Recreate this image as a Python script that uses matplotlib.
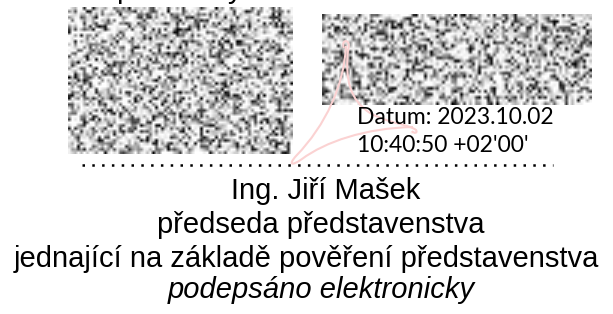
import numpy as np
import matplotlib
matplotlib.use('Agg')
import matplotlib.pyplot as plt
from matplotlib.path import Path
from matplotlib.patches import PathPatch

# text content of the signature block
top_line = "potvrzený"
stamp_lines = ["Datum: 2023.10.02", "10:40:50 +02'00'"]
name_lines = ["Ing. Jiří Mašek", "předseda představenstva",
              "jednající na základě pověření představenstva"]
signed_note = "podepsáno elektronicky"

W, H = 613, 314
fig = plt.figure(figsize=(W / 100, H / 100), dpi=100)
ax = fig.add_axes([0, 0, 1, 1])
ax.set_xlim(0, W)
ax.set_ylim(H, 0)
ax.axis('off')

# masked (scrambled) signature areas - just a grey speckle texture
rng = np.random.default_rng(11)
def speckle(x0, x1, y0, y1, cell=3.0):
	rows = int((y1 - y0) / cell)
	cols = int((x1 - x0) / cell)
	g = 1 - rng.random((rows, cols)) ** 2.4
	ax.imshow(g, cmap='gray', vmin=0, vmax=1, extent=(x0, x1, y1, y0),
	          interpolation='bilinear', aspect='auto', zorder=1)

speckle(68, 293, 7, 154)
speckle(322, 592, 14, 105)

# line above, only the descenders show
ax.text(116, -2.5, top_line, fontsize=21, family='Liberation Sans',
        ha='left', va='baseline', color='black', zorder=3)

# acrobat-like pink mark
pink = '#fbd2d2'
verts = [(346, 46), (344, 85), (326, 125), (296, 156),
         (288, 165), (292, 166), (302, 159),
         (325, 142), (365, 128), (413, 127)]
codes = [Path.MOVETO, Path.CURVE4, Path.CURVE4, Path.CURVE4,
         Path.CURVE4, Path.CURVE4, Path.CURVE4,
         Path.CURVE4, Path.CURVE4, Path.CURVE4]
ax.add_patch(PathPatch(Path(verts, codes), fill=False, ec=pink, lw=1.5, zorder=2))
verts = [(344, 48), (340, 39), (352, 38), (348, 50),
         (345, 80), (350, 100), (370, 113),
         (390, 124), (408, 124), (416, 130),
         (418, 133), (414, 134), (412, 131)]
codes = [Path.MOVETO, Path.CURVE4, Path.CURVE4, Path.CURVE4,
         Path.CURVE4, Path.CURVE4, Path.CURVE4,
         Path.CURVE4, Path.CURVE4, Path.CURVE4,
         Path.CURVE4, Path.CURVE4, Path.CURVE4]
ax.add_patch(PathPatch(Path(verts, codes), fill=False, ec=pink, lw=1.5, zorder=2))
ax.text(411, 133, '®', fontsize=3, color=pink, ha='center', va='center', zorder=2)

# timestamp
for i, s in enumerate(stamp_lines):
	ax.text(357, 124 + i * 27.5, s, fontsize=16.5, family='Lato',
	        ha='left', va='baseline', color='black', zorder=3)

# dotted signature line
ax.plot([82, 553], [165, 165], color='black', lw=1.8,
        linestyle=(0, (1, 2.92)), dash_capstyle='butt', zorder=3)

# name and role
centers = [326, 321, 306.5]
for i, s in enumerate(name_lines):
	ax.text(centers[i], 199 + i * 34, s, fontsize=21, family='Liberation Sans',
	        ha='center', va='baseline', color='black', zorder=3)
ax.text(321, 298, signed_note, fontsize=21, family='Liberation Sans', style='italic',
        ha='center', va='baseline', color='black', zorder=3)

plt.savefig('out.png', dpi=100)
